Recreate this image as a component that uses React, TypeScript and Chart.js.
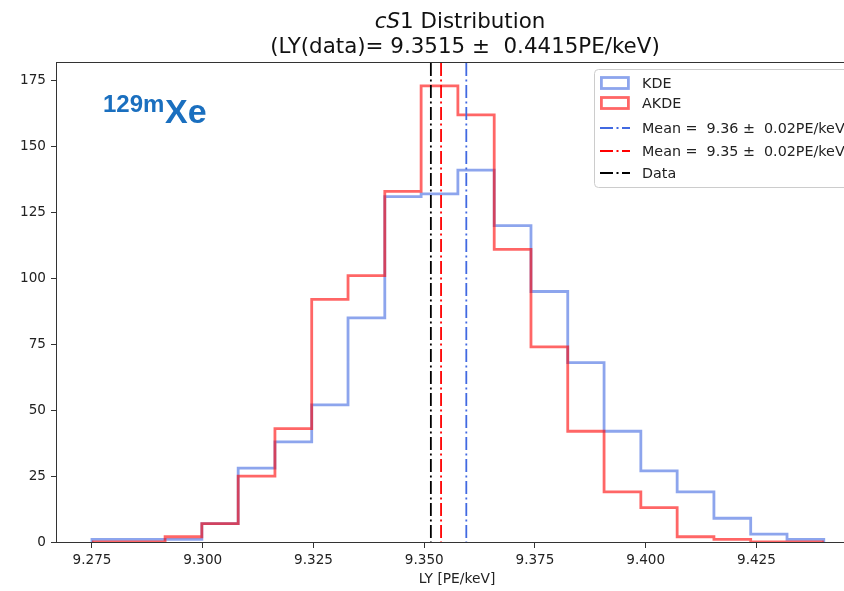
import React, { useEffect, useRef } from "react";
import { Chart, registerables } from "chart.js";

Chart.register(...registerables);

// ---- data ----
const binEdges = [
  9.275, 9.2833, 9.2915, 9.2998, 9.308, 9.3163, 9.3246, 9.3328, 9.3411, 9.3493,
  9.3576, 9.3658, 9.3741, 9.3824, 9.3906, 9.3989, 9.4071, 9.4154, 9.4237, 9.4319, 9.4402,
];
const kdeCounts = [1, 1, 1, 7, 28, 38, 52, 85, 131, 132, 141, 120, 95, 68, 42, 27, 19, 9, 3, 1];
const akdeCounts = [0, 0, 2, 7, 25, 43, 92, 101, 133, 173, 162, 111, 74, 42, 19, 13, 2, 1, 0, 0];
const meanKDE = 9.3595;
const meanAKDE = 9.3538;
const dataLY = 9.3515;
const xTickValues = [9.275, 9.3, 9.325, 9.35, 9.375, 9.4, 9.425];
const yTickValues = [0, 25, 50, 75, 100, 125, 150, 175];
const xMin = 9.2671;
const xMax = 9.4477;
const yMax = 181.65;
const legendLabels = ["KDE", "AKDE", "Mean =  9.36 \u00b1  0.02PE/keV", "Mean =  9.35 \u00b1  0.02PE/keV", "Data"];
const titleLine2 = "(LY(data)= 9.3515 \u00b1  0.4415PE/keV)";
const xLabel = "LY [PE/keV]";

const BLUE_A = "rgba(65,105,225,0.6)";
const RED_A = "rgba(255,0,0,0.6)";
const BLUE = "#4169e1";
const RED = "#ff0000";
const BLACK = "#000000";
const DASHDOT = [13, 3.5, 2, 3.5];
const FONT = "'DejaVu Sans', sans-serif";

function stepPoints(edges: number[], counts: number[]) {
  const pts: { x: number; y: number }[] = [{ x: edges[0], y: 0 }];
  counts.forEach((c, i) => {
    pts.push({ x: edges[i], y: c });
    pts.push({ x: edges[i + 1], y: c });
  });
  pts.push({ x: edges[edges.length - 1], y: 0 });
  return pts;
}

const decor = {
  id: "decor",
  afterDatasetsDraw(chart: any) {
    const { ctx, chartArea: a, scales } = chart;
    const xs = scales.x;
    ctx.save();
    ctx.lineWidth = 1.8;
    ctx.setLineDash(DASHDOT);
    [
      [meanKDE, BLUE],
      [meanAKDE, RED],
      [dataLY, BLACK],
    ].forEach(([v, c]: any) => {
      const px = xs.getPixelForValue(v);
      ctx.strokeStyle = c;
      ctx.beginPath();
      ctx.moveTo(px, a.top);
      ctx.lineTo(px, a.bottom);
      ctx.stroke();
    });
    ctx.restore();
  },
  afterDraw(chart: any) {
    const { ctx, chartArea: a } = chart;
    ctx.save();
    // spines
    ctx.strokeStyle = "#333";
    ctx.lineWidth = 1;
    ctx.strokeRect(Math.round(a.left) - 0.5, Math.round(a.top) - 0.5, a.right - a.left + 1, a.bottom - a.top + 1);

    const cx = (a.left + a.right) / 2;
    // title
    ctx.fillStyle = "#111";
    ctx.textBaseline = "alphabetic";
    const tf = 21.4;
    const parts: [string, string][] = [
      ["c", `italic ${tf}px ${FONT}`],
      ["S", `italic ${tf}px ${FONT}`],
      ["1 Distribution", `${tf}px ${FONT}`],
    ];
    let total = 0;
    parts.forEach(([t, f]) => {
      ctx.font = f;
      total += ctx.measureText(t).width;
    });
    let x0 = cx - total / 2 + 3;
    ctx.textAlign = "left";
    parts.forEach(([t, f]) => {
      ctx.font = f;
      ctx.fillText(t, x0, 28);
      x0 += ctx.measureText(t).width;
    });
    ctx.font = `${tf}px ${FONT}`;
    ctx.textAlign = "center";
    ctx.fillText(titleLine2, cx + 8, 53);

    // x label
    ctx.font = `13.8px ${FONT}`;
    ctx.fillStyle = "#222";
    ctx.fillText(xLabel, cx, 583);

    // isotope label
    ctx.fillStyle = "#1a6fbf";
    ctx.textAlign = "left";
    ctx.font = "bold 24px 'Liberation Sans', Arial, sans-serif";
    ctx.fillText("129m", 103, 112);
    ctx.font = "bold 34px 'Liberation Sans', Arial, sans-serif";
    ctx.fillText("Xe", 165, 123);

    // legend
    const lx = 594.5, ly = 69.5, lw = 262, lh = 118, r = 4;
    ctx.beginPath();
    ctx.moveTo(lx + r, ly);
    ctx.lineTo(lx + lw - r, ly);
    ctx.arcTo(lx + lw, ly, lx + lw, ly + r, r);
    ctx.lineTo(lx + lw, ly + lh - r);
    ctx.arcTo(lx + lw, ly + lh, lx + lw - r, ly + lh, r);
    ctx.lineTo(lx + r, ly + lh);
    ctx.arcTo(lx, ly + lh, lx, ly + lh - r, r);
    ctx.lineTo(lx, ly + r);
    ctx.arcTo(lx, ly, lx + r, ly, r);
    ctx.closePath();
    ctx.fillStyle = "rgba(255,255,255,0.85)";
    ctx.fill();
    ctx.strokeStyle = "#cccccc";
    ctx.lineWidth = 1;
    ctx.stroke();

    const rows = [83, 103, 128, 151, 173];
    const handleX0 = 600, handleX1 = 630;
    // patches
    ctx.lineWidth = 2.8;
    ctx.strokeStyle = BLUE_A;
    ctx.strokeRect(handleX0 + 1.4, rows[0] - 5.5, 27, 11);
    ctx.strokeStyle = RED_A;
    ctx.strokeRect(handleX0 + 1.4, rows[1] - 5.5, 27, 11);
    // lines
    ctx.lineWidth = 1.8;
    ctx.setLineDash(DASHDOT);
    [BLUE, RED, BLACK].forEach((c, i) => {
      ctx.strokeStyle = c;
      ctx.beginPath();
      ctx.moveTo(handleX0, rows[i + 2]);
      ctx.lineTo(handleX1, rows[i + 2]);
      ctx.stroke();
    });
    ctx.setLineDash([]);
    ctx.fillStyle = "#222";
    ctx.font = `14.3px ${FONT}`;
    ctx.textBaseline = "middle";
    legendLabels.forEach((t, i) => ctx.fillText(t, 642, rows[i] + 1));
    ctx.restore();
  },
};

export default function App() {
  const ref = useRef<HTMLCanvasElement | null>(null);
  useEffect(() => {
    if (!ref.current) return;
    const tickFont = { family: "'DejaVu Sans', sans-serif", size: 13.6 };
    const chart = new Chart(ref.current, {
      type: "line",
      data: {
        datasets: [
          {
            label: "AKDE",
            data: stepPoints(binEdges, akdeCounts),
            borderColor: RED_A,
            borderWidth: 2.8,
            pointRadius: 0,
            fill: false,
            tension: 0,
            borderJoinStyle: "miter",
            order: 0,
          },
          {
            label: "KDE",
            data: stepPoints(binEdges, kdeCounts),
            borderColor: BLUE_A,
            borderWidth: 2.8,
            pointRadius: 0,
            fill: false,
            tension: 0,
            borderJoinStyle: "miter",
            order: 1,
          },
        ],
      },
      options: {
        responsive: false,
        animation: false,
        devicePixelRatio: 1,
        layout: { padding: { left: 0, top: 63, right: 13, bottom: 0 } },
        plugins: { legend: { display: false }, tooltip: { enabled: false }, title: { display: false } },
        scales: {
          x: {
            type: "linear",
            min: xMin,
            max: xMax,
            afterBuildTicks: (s: any) => {
              s.ticks = xTickValues.map((v) => ({ value: v }));
            },
            afterFit: (s: any) => {
              s.height = 49;
            },
            ticks: {
              callback: (v: any) => Number(v).toFixed(3),
              font: tickFont,
              color: "#222",
              padding: 4,
              maxRotation: 0,
              autoSkip: false,
            },
            grid: { display: true, drawOnChartArea: false, drawTicks: true, tickLength: 6, color: "#333" },
            border: { display: false },
          },
          y: {
            min: 0,
            max: yMax,
            afterBuildTicks: (s: any) => {
              s.ticks = yTickValues.map((v) => ({ value: v }));
            },
            afterFit: (s: any) => {
              s.width = 57;
            },
            ticks: {
              callback: (v: any) => String(v),
              font: tickFont,
              color: "#222",
              padding: 5,
              autoSkip: false,
            },
            grid: { display: true, drawOnChartArea: false, drawTicks: true, tickLength: 6, color: "#333" },
            border: { display: false },
          },
        },
      },
      plugins: [decor],
    } as any);
    return () => chart.destroy();
  }, []);
  return (
    <div
      style={{
        position: "fixed",
        left: 0,
        top: 0,
        width: 844,
        height: 591,
        overflow: "hidden",
        background: "#fff",
      }}
    >
      <canvas ref={ref} width={870} height={591} style={{ display: "block", width: 870, height: 591 }} />
    </div>
  );
}
